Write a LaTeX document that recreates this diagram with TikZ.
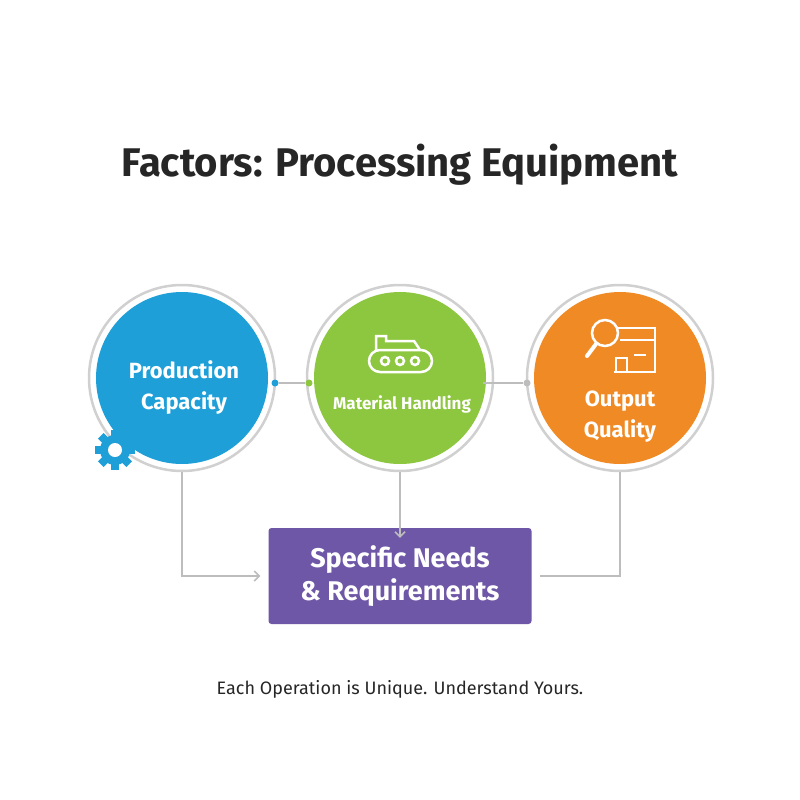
\documentclass[tikz,border=0pt]{standalone}
\usepackage{fontspec}
\setmainfont{Fira Sans}
\usetikzlibrary{positioning,arrows.meta}
\definecolor{capblue}{HTML}{1E9FD8}
\definecolor{handgreen}{HTML}{8DC63F}
\definecolor{qualorange}{HTML}{F08A24}
\definecolor{needpurple}{HTML}{6E57A6}
\definecolor{ringgray}{HTML}{D0D0D0}
\definecolor{linegray}{HTML}{BDBDBD}

\begin{document}
\begin{tikzpicture}
              [x=1pt,y=-1pt,
                ring/.style={circle,draw=ringgray,line width=2.5pt,fill=white,minimum size=186pt},
                factor/.style={circle,minimum size=172pt},
                label/.style={text=white,font=\fontsize{22}{31}\selectfont\bfseries,align=center},
                link/.style={draw=linegray,line width=1.5pt},
                dot/.style={circle,inner sep=0pt,minimum size=7pt}]
              \useasboundingbox[fill=white] (0,0) rectangle (800,800);
              \node[font=\fontsize{40}{48}\selectfont\bfseries,text=black!85] (title) at (400,165) {Factors: Processing Equipment};
              % circles
              \node[ring] (r1) at (182,378) {};
              \node[ring] (r2) at (400,378) {};
              \node[ring] (r3) at (620,378) {};
              \node[factor,fill=capblue] (c1) at (r1) {};
              \node[factor,fill=handgreen] (c2) at (r2) {};
              \node[factor,fill=qualorange] (c3) at (r3) {};
              \node[label] (t1) at (184,388) {Production\\Capacity};
              \node[label,font=\fontsize{17}{21}\selectfont\bfseries] (t2) at (402,404) {Material Handling};
              \node[label] (t3) at (620,417) {Output\\Quality};
              % links between circles
              \node[dot,fill=capblue] (d1) at (275,383) {};
              \node[dot,fill=handgreen] (d2) at (309,383) {};
              \node[dot,fill=linegray] (d3) at (527,383) {};
              \coordinate (d4) at (483,383);
              \draw[link] (d1) -- (d2);
              \draw[link] (d4) -- (d3);
              % box
              \node[rectangle,rounded corners=3pt,fill=needpurple,text=white,minimum width=263pt,minimum height=96pt,
                font=\fontsize{27}{33}\selectfont\bfseries,align=center] (needs) at (400,576) {Specific Needs\\\& Requirements};
              \draw[link,-{Straight Barb[length=5pt]}] (r1.south) |- ([xshift=-8pt]needs.west);
              \draw[link] (r3.south) |- ([xshift=8pt]needs.east);
              \draw[link,-{Straight Barb[length=5pt]}] (r2.south) -- ([yshift=-10pt]needs.north);
              % gear icon
              \begin{scope}[shift={(115,450)}]
                \foreach \a in {0,45,...,315}
                  \fill[capblue,rotate=\a] (-4,-20) rectangle (4,-12);
                \fill[capblue] (0,0) circle (15);
                \fill[white] (0,0) circle (7);
              \end{scope}
              % conveyor icon
              \begin{scope}[white,line width=2.5pt]
                \draw[rounded corners=11pt] (369,350) rectangle (432,372);
                \foreach \x in {385,400,415} \draw (\x,361) circle (4);
                \draw (376,350) -- (376,336) -- (386,336) -- (386,341) -- (414,341) -- (420,350);
              \end{scope}
              % inspection icon
              \begin{scope}[white,line width=2.5pt]
                \draw (612,328) -- (655,328) -- (655,372) -- (614,372);
                \draw (620,340) -- (655,340);
                \draw (616,372) -- (616,358) -- (627,358) -- (627,372);
                \draw (634,355) -- (646,355);
                \draw[fill=qualorange] (605,333) circle (13);
                \draw[line width=4pt,line cap=round] (596,344) -- (587,356);
              \end{scope}
              \node[font=\fontsize{18}{22}\selectfont,text=black!85] (motto) at (400,689) {Each Operation is Unique. Understand Yours.};
            \end{tikzpicture}
\end{document}
